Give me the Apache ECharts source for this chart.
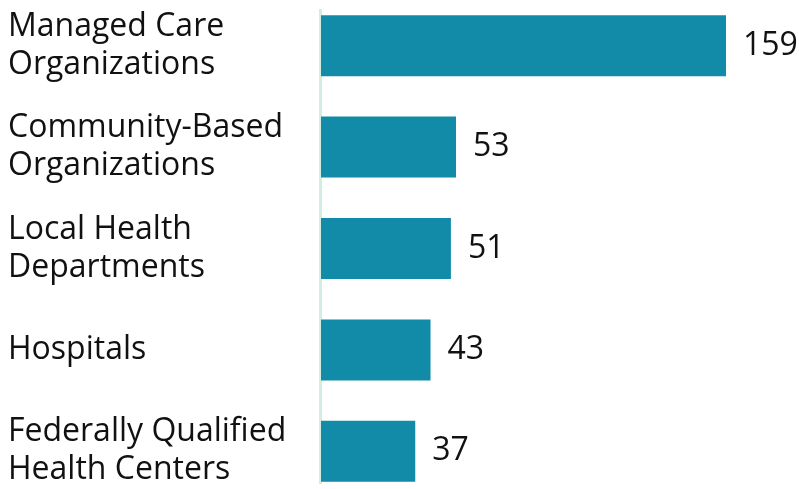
<!DOCTYPE html>
<html>
<head>
<meta charset="utf-8">
<script src="https://cdn.jsdelivr.net/npm/echarts@6/dist/echarts.min.js"></script>
<style>
  html, body { margin: 0; padding: 0; background: #fff; }
  #chart { width: 799px; height: 489px; }
</style>
</head>
<body>
<div id="chart"></div>
<script>
const CATEGORIES = [
  "Managed Care\nOrganizations",
  "Community-Based\nOrganizations",
  "Local Health\nDepartments",
  "Hospitals",
  "Federally Qualified\nHealth Centers",
];
const COUNTS = [159, 53, 51, 43, 37];

const chart = echarts.init(document.getElementById("chart"), null, { renderer: "canvas" });
chart.setOption({
  animation: false,
  backgroundColor: "#fff",
  textStyle: { fontFamily: "Open Sans" },
  grid: {
    left: 321, right: 73, top: -5, height: 507,
    containLabel: false,
    outerBoundsMode: "none",
  },
  xAxis: {
    type: "value",
    min: 0,
    max: 159,
    show: false,
  },
  yAxis: {
    type: "category",
    inverse: true,
    data: CATEGORIES,
    axisLine: { show: false },
    axisTick: { show: false },
    axisLabel: {
      align: "left",
      margin: 313,
      color: "#111",
      fontSize: 32,
      lineHeight: 38,
      fontFamily: "Open Sans",
    },
  },
  graphic: [{
    type: "rect",
    left: 319,
    top: 9,
    shape: { width: 3, height: 475 },
    style: { fill: "#d3ede3" },
    z: 0,
  }],
  series: [{
    type: "bar",
    data: COUNTS,
    barWidth: 61,
    itemStyle: { color: "#118ba8" },
    label: {
      show: true,
      position: "right",
      distance: 17,
      color: "#111",
      fontSize: 32,
      fontFamily: "Open Sans",
    },
    z: 2,
  }],
});
</script>
</body>
</html>
